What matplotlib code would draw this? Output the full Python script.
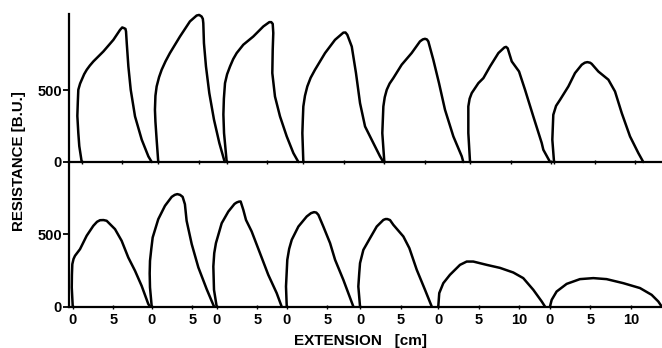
import matplotlib
matplotlib.use("Agg")
import matplotlib.pyplot as plt

plt.rcParams['font.family'] = ['Liberation Sans', 'DejaVu Sans']

# ---------------- data (local extension in cm, resistance in B.U.) ----------------
# upper row: curve start positions along the shared baseline (cm from y-axis)
top_offsets = [1.57, 11.02, 19.47, 28.93, 38.93, 49.51, 59.88]
top_x = [
    [0, -0.3, -0.42, -0.54, -0.48, -0.42, -0.2, 0, 0.3, 0.62, 1.0, 1.44, 2.67, 3.91, 4.73, 5.0, 5.23, 5.4, 5.47, 5.56, 5.76, 6.05, 6.58, 7.41, 8.23, 8.64],
    [0, -0.2, -0.35, -0.41, -0.35, -0.2, 0.1, 0.42, 0.9, 1.44, 2.68, 3.91, 4.74, 5.05, 5.35, 5.5, 5.56, 5.64, 5.89, 6.3, 6.88, 7.54, 8.12, 8.23],
    [0, -0.33, -0.41, -0.35, -0.21, 0.05, 0.41, 0.8, 1.23, 2.05, 3.28, 4.52, 5.26, 5.5, 5.68, 5.75, 5.68, 5.63, 5.96, 6.58, 7.41, 8.23, 8.85],
    [0, -0.12, -0.06, 0, 0.2, 0.49, 0.9, 1.44, 2.68, 3.91, 4.94, 5.2, 5.43, 5.98, 6.5, 7.0, 7.62, 8.64, 9.47, 9.88],
    [0, -0.25, -0.12, 0.05, 0.3, 0.65, 1.11, 2.14, 3.37, 4.4, 4.75, 5.02, 5.25, 5.43, 6.05, 6.75, 7.49, 8.52, 9.56, 9.75],
    [0, -0.21, -0.21, -0.05, 0.21, 1.03, 1.65, 2.47, 3.5, 4.24, 4.45, 4.65, 5.15, 6.05, 6.79, 7.81, 8.85, 9.05, 9.88],
    [0, -0.21, -0.09, 0.25, 0.74, 1.77, 2.59, 3.42, 3.8, 4.11, 4.45, 4.65, 5.47, 6.71, 7.53, 8.36, 9.38, 10.41, 11.02],
]
top_y = [
    [0, 110, 201, 320, 420, 502, 545, 571, 610, 641, 670, 699, 768, 849, 918, 935, 930, 925, 907, 826, 664, 502, 317, 155, 39, 0],
    [0, 155, 280, 363, 460, 525, 590, 641, 700, 757, 872, 977, 1018, 1022, 1011, 995, 965, 826, 664, 479, 294, 132, 16, 0],
    [0, 201, 330, 440, 548, 610, 664, 715, 757, 815, 872, 942, 972, 972, 960, 896, 780, 618, 455, 317, 178, 62, 0],
    [0, 201, 300, 386, 460, 525, 585, 641, 757, 849, 899, 900, 884, 802, 618, 409, 247, 132, 39, 0],
    [0, 201, 386, 450, 502, 545, 583, 676, 757, 838, 852, 856, 852, 838, 710, 548, 363, 178, 39, 0],
    [0, 201, 386, 440, 479, 548, 583, 664, 757, 796, 800, 790, 699, 629, 502, 317, 132, 85, 0],
    [0, 155, 328, 390, 432, 525, 618, 676, 690, 694, 690, 682, 629, 572, 490, 340, 178, 62, 0],
]
top_ticks = [[0, 5], [0, 5], [0, 5], [0, 5], [0, 5], [0, 5, 10], [0, 5, 10]]

# lower row
bot_offsets = [0.46, 10.21, 18.23, 26.88, 35.93, 45.59, 59.38]
bot_x = [
    [0, -0.12, -0.1, -0.05, 0.1, 0.28, 0.9, 1.72, 2.54, 3.0, 3.37, 3.8, 4.19, 5.22, 6.04, 6.86, 7.69, 8.51, 9.33, 9.54],
    [0, -0.21, -0.25, -0.21, -0.05, 0.12, 0.81, 1.64, 2.47, 2.85, 3.16, 3.5, 3.82, 4.1, 4.31, 4.94, 5.76, 6.79, 7.69],
    [0, -0.33, -0.41, -0.3, -0.09, 0.62, 1.44, 2.2, 2.47, 2.75, 2.96, 3.29, 3.62, 4.32, 5.35, 6.37, 7.41, 8.02],
    [0, -0.09, 0.07, 0.3, 0.62, 1.44, 2.47, 3.0, 3.37, 3.65, 3.91, 4.52, 5.35, 5.97, 6.99, 8.22],
    [0, -0.21, -0.1, 0, 0.41, 1.23, 2.06, 2.88, 3.15, 3.37, 3.7, 4.11, 5.35, 6.09, 7.0, 8.02, 8.85],
    [0, 0.12, 0.62, 1.44, 2.68, 3.51, 4.32, 5.98, 7.62, 9.26, 10.49, 11.73, 12.77, 13.17],
    [0, 0.21, 0.82, 2.06, 3.7, 5.35, 6.99, 9.05, 11.11, 12.55, 13.37, 13.79],
]
bot_y = [
    [0, 132, 220, 294, 330, 352, 398, 491, 560, 588, 599, 600, 595, 537, 456, 340, 248, 143, 17, 0],
    [0, 132, 230, 317, 400, 479, 606, 699, 761, 775, 780, 775, 761, 710, 595, 433, 271, 120, 0],
    [0, 116, 278, 370, 440, 578, 659, 712, 722, 728, 729, 671, 601, 521, 370, 220, 93, 0],
    [0, 139, 324, 400, 463, 555, 625, 648, 655, 652, 636, 555, 440, 324, 185, 0],
    [0, 139, 230, 301, 393, 474, 555, 601, 607, 607, 600, 567, 486, 405, 255, 116, 0],
    [0, 93, 162, 220, 289, 312, 312, 289, 268, 236, 197, 116, 35, 0],
    [0, 46, 104, 157, 190, 197, 190, 162, 128, 81, 35, 0],
]
bot_ticks = [[0, 5], [0, 5], [0, 5], [0, 5], [0, 5], [0, 5, 10], [0, 5, 10]]

y_ticks = [0, 500]
y_label = "RESISTANCE [B.U.]"
x_label = "EXTENSION   [cm]"

# ---------------- figure ----------------
W, H = 662, 348
fig = plt.figure(figsize=(W / 100, H / 100), dpi=100)

def rect(l, t, r, b):
    return [l / W, 1 - b / H, (r - l) / W, (b - t) / H]

ax_top = fig.add_axes(rect(69, 14.5, 662, 162))
ax_bot = fig.add_axes(rect(69, 162, 662, 306.5))

XMAX = (662 - 69) / 8.1

def setup(ax, ytop, offsets, ticks, labels):
    ax.set_xlim(0, XMAX)
    ax.set_ylim(0, ytop)
    for s in ("top", "right"):
        ax.spines[s].set_visible(False)
    for s in ("left", "bottom"):
        ax.spines[s].set_linewidth(1.6)
        ax.spines[s].set_color("black")
    ax.set_yticks(y_ticks)
    ax.set_yticklabels([str(v) for v in y_ticks], fontsize=10.5, fontweight="bold")
    ax.tick_params(axis="y", direction="out", length=4, width=1.3, pad=1)
    pos, lab = [], []
    for off, tk in zip(offsets, ticks):
        for t in tk:
            pos.append(off + t)
            lab.append(str(t))
    ax.set_xticks(pos)
    if labels:
        ax.set_xticklabels(lab, fontsize=10.5, fontweight="bold")
    else:
        ax.set_xticklabels([])
    ax.tick_params(axis="x", direction="inout", length=3, width=1.0, pad=3.2)
    ax.patch.set_visible(False)

setup(ax_top, 1025, top_offsets, top_ticks, False)
setup(ax_bot, 1003, bot_offsets, bot_ticks, True)

for off, xs, ys in zip(top_offsets, top_x, top_y):
    ax_top.plot([off + v for v in xs], ys, color="black", lw=1.8,
                solid_joinstyle="round", solid_capstyle="round", clip_on=False)
for off, xs, ys in zip(bot_offsets, bot_x, bot_y):
    ax_bot.plot([off + v for v in xs], ys, color="black", lw=1.8,
                solid_joinstyle="round", solid_capstyle="round", clip_on=False)

fig.text(19 / W, 1 - 161.5 / H, y_label, rotation=90, ha="center", va="center",
         fontsize=10.8, fontweight="bold")
fig.text(361 / W, 1 - 341.5 / H, x_label, ha="center", va="center",
         fontsize=11, fontweight="bold")

fig.savefig("out.png", dpi=100, facecolor="white")
